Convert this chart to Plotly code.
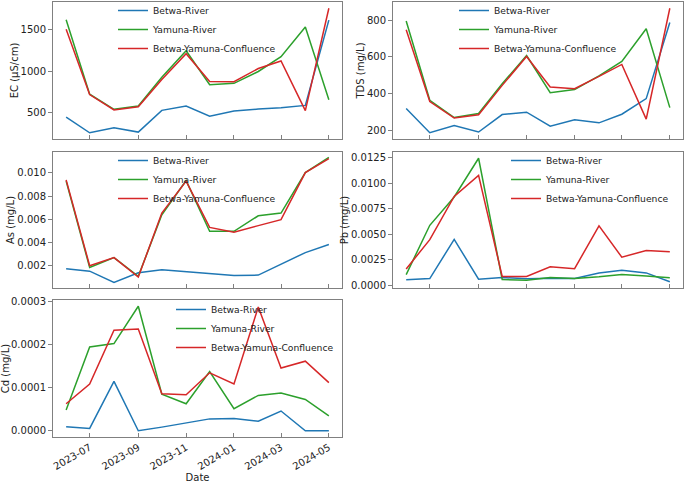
import plotly.graph_objects as go

dates = ["2023-06-01", "2023-07-01", "2023-08-01", "2023-09-01", "2023-10-01", "2023-11-01",
         "2023-12-01", "2024-01-01", "2024-02-01", "2024-03-01", "2024-04-01", "2024-05-01"]
series_names = ["Betwa-River", "Yamuna-River", "Betwa-Yamuna-Confluence"]

ec_betwa = [447, 259, 318, 267, 528, 579, 457, 520, 543, 559, 587, 1611]
ec_yamuna = [1615, 721, 540, 579, 925, 1243, 836, 852, 994, 1172, 1528, 654]
ec_confluence = [1500, 717, 532, 571, 899, 1208, 875, 872, 1030, 1120, 524, 1753]

tds_betwa = [319, 187, 227, 191, 286, 299, 223, 258, 241, 288, 373, 787]
tds_yamuna = [796, 364, 270, 292, 454, 607, 405, 422, 497, 575, 753, 324]
tds_confluence = [748, 357, 267, 285, 445, 602, 436, 427, 494, 559, 261, 865]

as_betwa = [0.00174, 0.00154, 0.00057, 0.00140, 0.00166, 0.00149, 0.00131, 0.00117, 0.00120, 0.00214, 0.00314, 0.00383]
as_yamuna = [0.00929, 0.00186, 0.00271, 0.00109, 0.00640, 0.00934, 0.00497, 0.00497, 0.00631, 0.00654, 0.01003, 0.01134]
as_confluence = [0.00940, 0.00200, 0.00271, 0.00103, 0.00654, 0.00930, 0.00531, 0.00489, 0.00546, 0.00597, 0.01003, 0.01123]

pb_betwa = [0.00055, 0.00067, 0.00450, 0.00061, 0.00077, 0.00064, 0.00071, 0.00067, 0.00122, 0.00148, 0.00122, 0.00035]
pb_yamuna = [0.00106, 0.00588, 0.00865, 0.01244, 0.00058, 0.00051, 0.00077, 0.00067, 0.00084, 0.00106, 0.00093, 0.00074]
pb_confluence = [0.00161, 0.00447, 0.00870, 0.01077, 0.00087, 0.00087, 0.00183, 0.00164, 0.00582, 0.00276, 0.00341, 0.00328]

cd_betwa = [0.0000092, 0.0000054, 0.000115, 0.0, 0.0000085, 0.0000185, 0.0000277, 0.0000285, 0.0000223, 0.000046, 0.0, 0.0]
cd_yamuna = [0.0000485, 0.000195, 0.000203, 0.000290, 0.0000854, 0.000063, 0.000138, 0.0000515, 0.0000823, 0.0000877, 0.000073, 0.0000346]
cd_confluence = [0.000063, 0.000109, 0.000234, 0.000237, 0.0000862, 0.0000838, 0.000135, 0.000109, 0.000288, 0.000146, 0.000162, 0.000112]

panels = [
    ("EC (µS/cm)", [ec_betwa, ec_yamuna, ec_confluence], [184, 1828], [500, 1000, 1500], ["500", "1000", "1500"]),
    ("TDS (mg/L)", [tds_betwa, tds_yamuna, tds_confluence], [153, 899], [200, 400, 600, 800], ["200", "400", "600", "800"]),
    ("As (mg/L)", [as_betwa, as_yamuna, as_confluence], [0.00009, 0.01180],
     [0.002, 0.004, 0.006, 0.008, 0.010], ["0.002", "0.004", "0.006", "0.008", "0.010"]),
    ("Pb (mg/L)", [pb_betwa, pb_yamuna, pb_confluence], [-0.000255, 0.01305],
     [0.0, 0.0025, 0.005, 0.0075, 0.01, 0.0125], ["0.0000", "0.0025", "0.0050", "0.0075", "0.0100", "0.0125"]),
    ("Cd (mg/L)", [cd_betwa, cd_yamuna, cd_confluence], [-0.0000145, 0.0003045],
     [0.0, 0.0001, 0.0002, 0.0003], ["0.0000", "0.0001", "0.0002", "0.0003"]),
]

colors = ["#1f77b4", "#2ca02c", "#d62728"]

W, H = 685, 483


def px(x):
    return x / W


def py(y):
    return 1 - y / H


# pixel boxes (left, right, top, bottom)
boxes = [
    (53, 342, 2, 139),
    (393, 683, 2, 139),
    (53, 342, 152, 288),
    (393, 683, 152, 288),
    (53, 342, 300, 437),
]
# legend top-left positions
legend_pos = [(113, -4), (454, -4), (113, 146), (506, 146), (171, 295)]

FONT = "DejaVu Sans"
GRAY = "#808080"
TXT = "#222"

fig = go.Figure()
layout = dict(
    width=W, height=H,
    margin=dict(l=0, r=0, t=0, b=0, autoexpand=False),
    paper_bgcolor="white", plot_bgcolor="white",
    font=dict(family=FONT, size=10, color=TXT),
)

for i, (title, series, yr, tv, tt) in enumerate(panels):
    n = i + 1
    sfx = "" if n == 1 else str(n)
    lg = "legend" if n == 1 else f"legend{n}"
    for name, vals, c in zip(series_names, series, colors):
        fig.add_trace(go.Scatter(
            x=dates, y=vals, mode="lines", name=name,
            line=dict(color=c, width=1.5),
            xaxis=f"x{sfx}", yaxis=f"y{sfx}", legend=lg,
        ))
    l, r, t, b = boxes[i]
    layout[f"xaxis{sfx}"] = dict(
        domain=[px(l), px(r)], anchor=f"y{sfx}", type="date", automargin=True,
        range=["2023-05-15 06:00", "2024-05-17 18:00"],
        tick0="2023-07-01", dtick="M2", tickformat="%Y-%m",
        ticks="inside", ticklen=4, tickcolor=GRAY, tickwidth=1,
        showline=True, linecolor=GRAY, linewidth=1, mirror=True,
        showgrid=False, zeroline=False,
        showticklabels=(n == 5), tickangle=-30,
        tickfont=dict(family=FONT, size=10, color=TXT),
        title=dict(text="Date" if n == 5 else "", font=dict(family=FONT, size=10, color=TXT), standoff=2),
    )
    layout[f"yaxis{sfx}"] = dict(
        domain=[py(b), py(t)], anchor=f"x{sfx}", automargin=True,
        range=yr, tickvals=tv, ticktext=tt,
        ticks="outside", ticklen=4, tickcolor=GRAY, tickwidth=1,
        showline=True, linecolor=GRAY, linewidth=1, mirror=True,
        showgrid=False, zeroline=False,
        tickfont=dict(family=FONT, size=10, color=TXT),
        title=dict(text=title, font=dict(family=FONT, size=10, color=TXT), standoff=0),
    )
    lx, ly = legend_pos[i]
    layout[lg] = dict(
        x=px(lx), y=py(ly), xanchor="left", yanchor="top",
        xref="paper", yref="paper",
        bgcolor="rgba(0,0,0,0)", borderwidth=0,
        font=dict(family=FONT, size=9.2, color=TXT),
        itemwidth=30, tracegroupgap=0,
    )

fig.update_layout(**layout)
fig.write_html("out.html", config={"displayModeBar": False},
               post_script="document.body.style.margin='0';")
